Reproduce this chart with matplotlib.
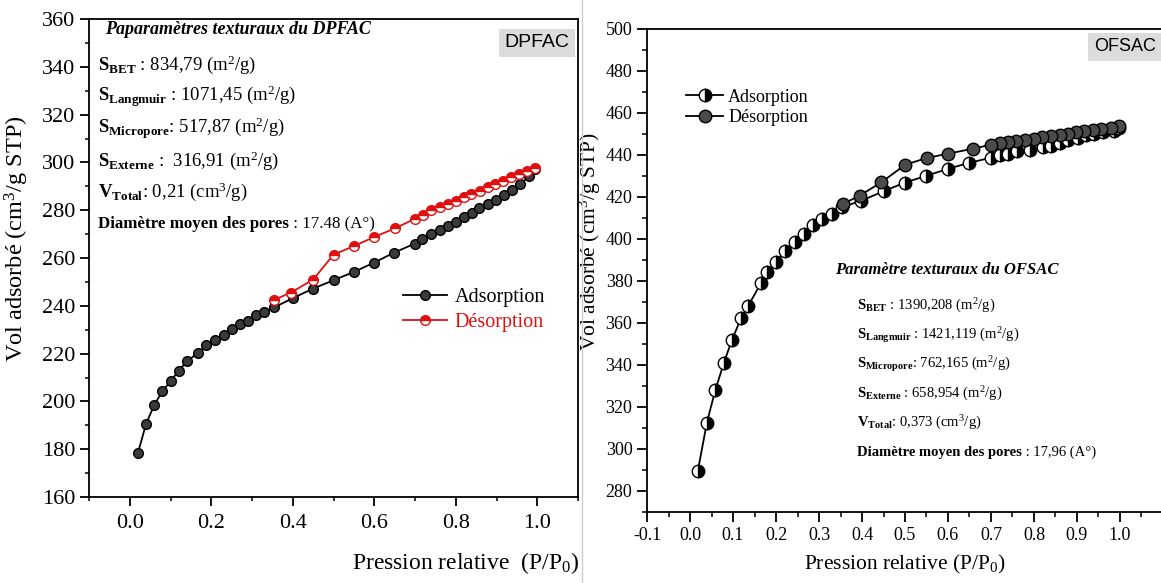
import matplotlib
matplotlib.use("Agg")
import matplotlib.pyplot as plt
from matplotlib.lines import Line2D
from matplotlib.ticker import MultipleLocator

plt.rcParams["font.family"] = ["Liberation Serif", "DejaVu Serif"]
plt.rcParams["mathtext.fontset"] = "custom"
plt.rcParams["mathtext.rm"] = "Liberation Serif"
plt.rcParams["mathtext.it"] = "Liberation Serif:italic"
plt.rcParams["mathtext.bf"] = "Liberation Serif:bold"
plt.rcParams["axes.unicode_minus"] = False

# DPFAC isotherm
dp_ads_x = [0.02, 0.04, 0.06, 0.08, 0.10, 0.12, 0.14, 0.167, 0.187, 0.21, 0.23, 0.25,
            0.27, 0.29, 0.31, 0.33, 0.354, 0.40, 0.45, 0.50, 0.55, 0.60, 0.648, 0.699,
            0.718, 0.738, 0.76, 0.78, 0.80, 0.82, 0.84, 0.858, 0.878, 0.899, 0.918,
            0.938, 0.958, 0.98, 0.994]
dp_ads_y = [178.4, 190.7, 198.5, 204.3, 208.4, 212.9, 216.7, 220.3, 223.4, 225.5, 227.8,
            230.3, 232.4, 233.8, 236.1, 237.6, 239.3, 243.2, 247.2, 250.7, 254.2, 258.1,
            262.2, 266.0, 267.8, 270.1, 271.8, 273.3, 275.1, 277.1, 278.9, 280.8, 282.6,
            284.4, 286.4, 288.5, 291.0, 294.2, 297.2]
dp_des_x = [0.994, 0.974, 0.955, 0.935, 0.915, 0.896, 0.878, 0.86, 0.838, 0.819, 0.80,
            0.78, 0.76, 0.74, 0.72, 0.699, 0.652, 0.60, 0.55, 0.50, 0.45, 0.395, 0.354]
dp_des_y = [297.5, 296.5, 295.0, 293.7, 292.4, 291.0, 289.6, 288.2, 286.8, 285.4, 284.0,
            282.6, 281.3, 279.9, 278.0, 276.4, 272.5, 268.8, 265.0, 261.4, 251.0, 245.5,
            242.5]

# OFSAC isotherm
of_ads_x = [0.018, 0.039, 0.059, 0.079, 0.097, 0.119, 0.135, 0.165, 0.18, 0.20, 0.222,
            0.243, 0.264, 0.287, 0.308, 0.331, 0.353, 0.398, 0.451, 0.499, 0.55, 0.60,
            0.65, 0.70, 0.72, 0.74, 0.76, 0.79, 0.82, 0.84, 0.86, 0.88, 0.902, 0.922,
            0.94, 0.96, 0.985, 0.997]
of_ads_y = [289.3, 312.4, 328.2, 341.1, 351.7, 362.4, 368.0, 379.0, 384.3, 389.2, 394.1,
            398.6, 402.5, 406.5, 409.4, 412.0, 415.1, 418.2, 422.8, 426.8, 430.1, 433.4,
            436.3, 438.7, 439.8, 440.6, 441.7, 442.6, 443.7, 444.5, 445.8, 447.0, 448.2,
            449.3, 450.0, 450.8, 451.6, 452.8]
of_des_x = [0.997, 0.978, 0.957, 0.937, 0.917, 0.898, 0.879, 0.86, 0.84, 0.819, 0.80,
            0.78, 0.758, 0.74, 0.72, 0.70, 0.658, 0.60, 0.551, 0.501, 0.445, 0.395, 0.355]
of_des_y = [453.9, 453.0, 452.5, 452.0, 451.6, 450.8, 450.0, 449.3, 448.9, 448.4, 447.8,
            447.3, 446.8, 446.0, 445.7, 444.9, 443.0, 440.6, 438.6, 435.4, 427.0, 420.7,
            416.6]

dp_lines = [r"$\mathbf{S_{BET}}$ : 834,79 (m$^2$/g)",
            r"$\mathbf{S_{Langmuir}}$ : 1071,45 (m$^2$/g)",
            r"$\mathbf{S_{Micropore}}$: 517,87 (m$^2$/g)",
            r"$\mathbf{S_{Externe}}$ :  316,91 (m$^2$/g)",
            r"$\mathbf{V_{Total}}$: 0,21 (cm$^3$/g)"]
dp_pores = ("Diamètre moyen des pores", " : 17.48 (A°)")
of_lines = [r"$\mathbf{S_{BET}}$ : 1390,208 (m$^2$/g)",
            r"$\mathbf{S_{Langmuir}}$ : 1421,119 (m$^2$/g)",
            r"$\mathbf{S_{Micropore}}$: 762,165 (m$^2$/g)",
            r"$\mathbf{S_{Externe}}$ : 658,954 (m$^2$/g)",
            r"$\mathbf{V_{Total}}$: 0,373 (cm$^3$/g)"]
of_pores = ("Diamètre moyen des pores", " : 17,96 (A°)")


def param_block(ax, x, y0, dy, lines, pores, size, pores_size):
    for i, s in enumerate(lines):
        ax.text(x, y0 - i * dy, s, transform=ax.transAxes, fontsize=size, va="center")
    t = ax.text(x, y0 - len(lines) * dy, pores[0], transform=ax.transAxes,
                fontsize=pores_size, fontweight="bold", va="center")
    ax.annotate(pores[1], xy=(1, 0.5), xycoords=t, fontsize=pores_size, va="center")


fig = plt.figure(figsize=(11.61, 5.83), dpi=100)
ax1 = fig.add_axes([0.0767, 0.1475, 0.4212, 0.8199])
ax2 = fig.add_axes([0.5573, 0.1218, 0.4444, 0.8285])

# separator between the two panels
fig.add_artist(Line2D([0.5015, 0.5015], [0.0, 1.0], color="#cccccc", lw=1))

# left panel
ax1.plot(dp_ads_x, dp_ads_y, "-o", color="black", lw=1.3, ms=7,
         mfc="#3a3a3a", mec="black", label="Adsorption")
ax1.plot(dp_des_x, dp_des_y, "-o", color="#e01010", lw=1.3, ms=7,
         fillstyle="top", mfc="#e01010", mfcalt="white", mec="#e01010",
         label="Désorption")
ax1.set_xlim(-0.1, 1.1)
ax1.set_ylim(160, 360)
ax1.xaxis.set_minor_locator(MultipleLocator(0.1))
ax1.yaxis.set_major_locator(MultipleLocator(20))
ax1.yaxis.set_minor_locator(MultipleLocator(10))
ax1.set_xticks([0.0, 0.2, 0.4, 0.6, 0.8, 1.0])
ax1.tick_params(labelsize=16, width=1.3, length=6.5)
ax1.tick_params(which="minor", width=1.1, length=3)
ax1.tick_params(axis="x", pad=6)
ax1.set_ylabel(r"Vol adsorbé (cm$^3$/g STP)", fontsize=17.5)
ax1.yaxis.set_label_coords(-0.118, 0.54)
ax1.set_xlabel(r"Pression relative  (P/P$_0$)", fontsize=17)
ax1.xaxis.set_label_coords(0.77, -0.11)
leg1 = ax1.legend(loc="upper left", bbox_to_anchor=(0.604, 0.476), frameon=False,
                  fontsize=14.5, handlelength=2.2, handletextpad=0.4, labelspacing=0.3)
leg1.get_texts()[1].set_color("#e01010")

ax1.text(0.033, 0.977, "Paparamètres texturaux du DPFAC", transform=ax1.transAxes,
         fontsize=13, fontweight="bold", style="italic", va="center")
param_block(ax1, 0.018, 0.904, 0.0666, dp_lines, dp_pores, 13.5, 12.2)
ax1.text(0.916, 0.95, "DPFAC", transform=ax1.transAxes, fontsize=14,
         family="Liberation Sans", ha="center", va="center",
         bbox=dict(boxstyle="square,pad=0.3", fc="#dcdcdc", ec="none"))

# right panel
ax2.plot(of_ads_x, of_ads_y, "-o", color="black", lw=1.3, ms=9,
         fillstyle="right", mfc="black", mfcalt="white", mec="black",
         label="Adsorption")
ax2.plot(of_des_x, of_des_y, "-o", color="black", lw=1.3, ms=9,
         mfc="#4a4a4a", mec="black", label="Désorption")
ax2.set_xlim(-0.1, 1.1)
ax2.set_ylim(270, 500)
ax2.xaxis.set_minor_locator(MultipleLocator(0.05))
ax2.yaxis.set_minor_locator(MultipleLocator(10))
ax2.set_xticks([-0.1, 0.0, 0.1, 0.2, 0.3, 0.4, 0.5, 0.6, 0.7, 0.8, 0.9, 1.0])
ax2.set_yticks(range(280, 501, 20))
ax2.tick_params(labelsize=13, width=1.3, length=7)
ax2.tick_params(which="minor", width=1.1, length=3.5)
ax2.set_ylabel(r"Vol adsorbé (cm$^3$/g STP)", fontsize=15.5)
ax2.yaxis.set_label_coords(-0.086, 0.56)
ax2.set_xlabel(r"Pression relative (P/P$_0$)", fontsize=15.5)
ax2.xaxis.set_label_coords(0.5, -0.085)
ax2.legend(loc="upper left", bbox_to_anchor=(0.045, 0.91), frameon=False,
           fontsize=13, handlelength=2.0, handletextpad=0.3, labelspacing=0.2)

ax2.text(0.364, 0.501, "Paramètre texturaux du OFSAC", transform=ax2.transAxes,
         fontsize=12, fontweight="bold", style="italic", va="center")
param_block(ax2, 0.407, 0.427, 0.0606, of_lines, of_pores, 10.5, 10.5)
ax2.text(0.926, 0.963, "OFSAC", transform=ax2.transAxes, fontsize=13,
         family="Liberation Sans", ha="center", va="center",
         bbox=dict(boxstyle="square,pad=0.3", fc="#dcdcdc", ec="none"))

for ax in (ax1, ax2):
    for sp in ax.spines.values():
        sp.set_linewidth(1.3)

fig.savefig("out.png", dpi=100)
